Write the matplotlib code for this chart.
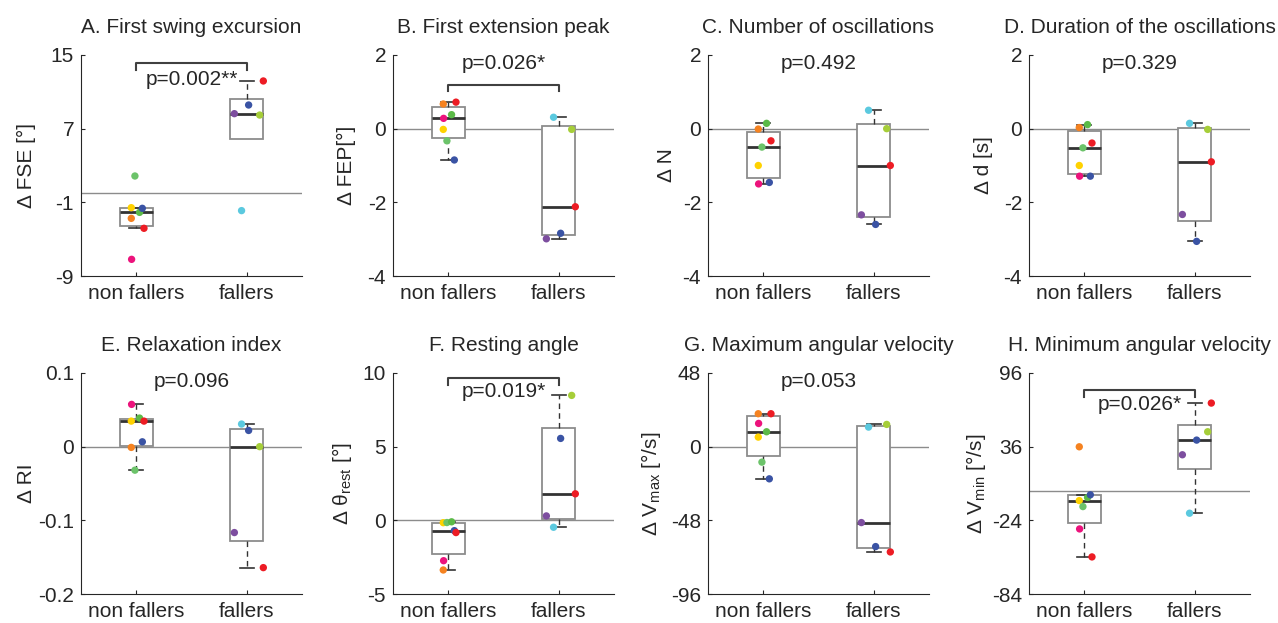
import matplotlib.pyplot as plt
import numpy as np

plt.rcParams['font.family'] = ['Liberation Sans', 'DejaVu Sans']
plt.rcParams['mathtext.fontset'] = 'custom'
plt.rcParams['mathtext.rm'] = 'Liberation Sans'
plt.rcParams['mathtext.it'] = 'Liberation Sans:italic'
plt.rcParams['text.color'] = '#262626'
plt.rcParams['axes.labelcolor'] = '#262626'

groups = ['non fallers', 'fallers']

# subjects: yellow, orange, green A, green B, blue, red, pink
nf_colors = ['#FFD200', '#F58220', '#6CC36A', '#5BBA47', '#3A53A4', '#ED1C24', '#EC137C']
# subjects: purple, blue, lime, red, cyan
f_colors = ['#7D4E9F', '#3A53A4', '#A6CE39', '#ED1C24', '#5BC9DF']
nf_jitter = [-0.045, -0.045, -0.012, 0.03, 0.055, 0.07, -0.042]
f_jitter = [-0.112, 0.017, 0.117, 0.15, -0.047]

titles = ['A. First swing excursion', 'B. First extension peak',
          'C. Number of oscillations', 'D. Duration of the oscillations',
          'E. Relaxation index', 'F. Resting angle',
          'G. Maximum angular velocity', 'H. Minimum angular velocity']
ylabels = ['Δ FSE [°]', 'Δ FEP[°]', 'Δ N', 'Δ d [s]', 'Δ RI',
           r'Δ θ$_{\mathrm{rest}}$ [°]', r'Δ V$_{\mathrm{max}}$ [°/s]',
           r'Δ V$_{\mathrm{min}}$ [°/s]']
p_texts = ['p=0.002**', 'p=0.026*', 'p=0.492', 'p=0.329',
           'p=0.096', 'p=0.019*', 'p=0.053', 'p=0.026*']
yticks = [[-9, -1, 7, 15], [-4, -2, 0, 2], [-4, -2, 0, 2], [-4, -2, 0, 2],
          [-0.2, -0.1, 0, 0.1], [-5, 0, 5, 10], [-96, -48, 0, 48], [-84, -24, 36, 96]]

fse_nf = [-1.58, -2.74, 1.86, -2.09, -1.65, -3.82, -7.19]
fse_f = [8.63, 9.57, 8.48, 12.18, -1.9]
fep_nf = [-0.02, 0.67, -0.33, 0.38, -0.85, 0.72, 0.28]
fep_f = [-2.99, -2.84, -0.02, -2.12, 0.31]
nosc_nf = [-1.0, -0.01, -0.5, 0.145, -1.46, -0.33, -1.5]
nosc_f = [-2.34, -2.6, 0.0, -1.0, 0.5]
dur_nf = [-1.0, 0.03, -0.52, 0.11, -1.29, -0.39, -1.29]
dur_f = [-2.33, -3.06, -0.02, -0.9, 0.145]
ri_nf = [0.0347, -0.001, -0.0319, 0.0388, 0.0066, 0.0347, 0.0574]
ri_f = [-0.1166, 0.022, 0.0, -0.1642, 0.0307]
rest_nf = [-0.16, -3.37, -0.15, -0.1, -0.7, -0.83, -2.74]
rest_f = [0.3, 5.56, 8.48, 1.8, -0.47]
vmax_nf = [6.23, 21.46, -10.08, 9.71, -20.96, 21.46, 15.15]
vmax_f = [-49.46, -65.1, 14.5, -68.6, 12.76]
vmin_nf = [-7.9, 35.9, -12.8, -5.4, -3.2, -53.8, -31.0]
vmin_f = [29.4, 41.35, 48.15, 71.5, -18.2]

nf_data = [fse_nf, fep_nf, nosc_nf, dur_nf, ri_nf, rest_nf, vmax_nf, vmin_nf]
f_data = [fse_f, fep_f, nosc_f, dur_f, ri_f, rest_f, vmax_f, vmin_f]

# annotation placement: (bracket y or None, text y)
annot = [(14.1, 12.3), (1.19, 1.77), (None, 1.77), (None, 1.77),
         (None, 0.0887), (9.66, 8.75), (None, 42.6), (81.9, 70.2)]

# axes left edges in pixels, rows top/bottom
lefts = [81, 393, 708, 1029]
row_tops = [55, 373]
W, H = 1278, 623
ax_w, ax_h = 221, 221
label_x = [-0.204, -0.167, -0.145, -0.163, -0.204, -0.176, -0.205, -0.186]
FS = 15


def box_stats(vals):
    # MATLAB style quartiles, whiskers at 1.5 IQR, outliers hidden
    v = np.sort(np.asarray(vals, float))
    q1, med, q3 = np.percentile(v, [25, 50, 75], method='hazen')
    iqr = q3 - q1
    lo = v[v >= q1 - 1.5 * iqr].min()
    hi = v[v <= q3 + 1.5 * iqr].max()
    return dict(med=med, q1=q1, q3=q3, whislo=min(lo, q1), whishi=max(hi, q3),
                fliers=[]), lo > q1, hi < q3


fig = plt.figure(figsize=(W / 100, H / 100), dpi=100)
dark = '#262626'

for i in range(8):
    row, col = divmod(i, 4)
    ax = fig.add_axes([lefts[col] / W, (H - row_tops[row] - ax_h) / H, ax_w / W, ax_h / H])
    yt = yticks[i]
    ax.set_ylim(yt[0], yt[-1])
    ax.set_xlim(0.5, 2.5)
    ax.axhline(0, color='#8c8c8c', lw=1, zorder=0.5)

    stats = []
    hide = []
    for vals in (nf_data[i], f_data[i]):
        s, hide_lo, hide_hi = box_stats(vals)
        stats.append(s)
        hide.append((hide_lo, hide_hi))
    art = ax.bxp(stats, positions=[1, 2], widths=0.3, showfliers=False,
                 patch_artist=True, capwidths=0.13,
                 boxprops=dict(facecolor='white', edgecolor='#8c8c8c', lw=1.3),
                 medianprops=dict(color='#333333', lw=2),
                 whiskerprops=dict(color='#333333', lw=1, linestyle=(0, (4, 3))),
                 capprops=dict(color='#333333', lw=1.2))
    for b in range(2):
        if hide[b][0]:
            art['caps'][2 * b].set_visible(False)
        if hide[b][1]:
            art['caps'][2 * b + 1].set_visible(False)

    ax.scatter(1 + np.array(nf_jitter), nf_data[i], s=28, c=nf_colors, zorder=4,
               linewidths=0, clip_on=False)
    ax.scatter(2 + np.array(f_jitter), f_data[i], s=28, c=f_colors, zorder=4,
               linewidths=0, clip_on=False)

    span = yt[-1] - yt[0]
    by, ty = annot[i]
    if by is not None:
        drop = 0.03 * span
        ax.plot([1, 1, 2, 2], [by - drop, by, by, by - drop], color='#404040', lw=1.5,
                zorder=3)
    ax.text(1.5, ty, p_texts[i], ha='center', va='center', fontsize=FS)

    ax.set_xticks([1, 2])
    ax.set_xticklabels(groups)
    ax.set_yticks(yt)
    ax.set_yticklabels([f'{t:g}' for t in yt])
    ax.tick_params(direction='in', length=3, width=0.8, colors=dark, labelsize=FS)
    ax.tick_params(axis='x', pad=6)
    ax.tick_params(axis='y', pad=5)
    for sp in ('top', 'right'):
        ax.spines[sp].set_visible(False)
    for sp in ('left', 'bottom'):
        ax.spines[sp].set_color(dark)
        ax.spines[sp].set_linewidth(0.8)
    ax.set_title(titles[i], fontsize=FS, pad=16)
    ax.set_ylabel(ylabels[i], fontsize=FS)
    ax.yaxis.set_label_coords(label_x[i], 0.5)

fig.savefig('out.png', dpi=100)
